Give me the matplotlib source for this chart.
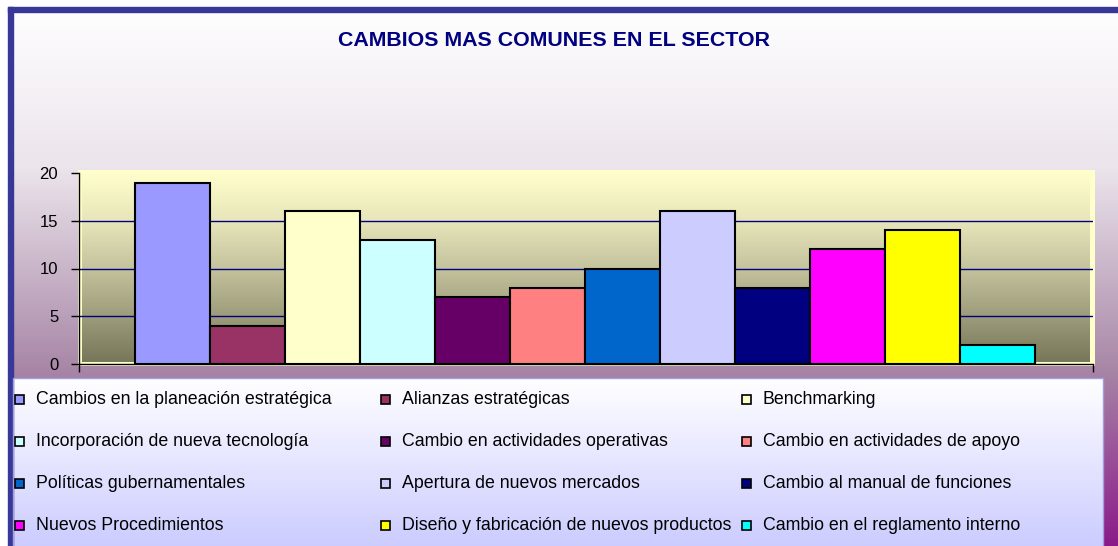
import numpy as np
import matplotlib.pyplot as plt
from matplotlib.colors import LinearSegmentedColormap
from matplotlib.patches import Rectangle

titulo = "CAMBIOS MAS COMUNES EN EL SECTOR"
categorias = [
    "Cambios en la planeación estratégica",
    "Alianzas estratégicas",
    "Benchmarking",
    "Incorporación de nueva tecnología",
    "Cambio en actividades operativas",
    "Cambio en actividades de apoyo",
    "Políticas gubernamentales",
    "Apertura de nuevos mercados",
    "Cambio al manual de funciones",
    "Nuevos Procedimientos",
    "Diseño y fabricación de nuevos productos",
    "Cambio en el reglamento interno",
]
valores = [19, 4, 16, 13, 7, 8, 10, 16, 8, 12, 14, 2]
colores = ['#9999ff', '#993366', '#ffffcc', '#ccffff', '#660066', '#ff8080',
           '#0066cc', '#ccccff', '#000080', '#ff00ff', '#ffff00', '#00ffff']
yticks = [0, 5, 10, 15, 20]

plt.rcParams['font.family'] = ['Liberation Sans', 'DejaVu Sans']

W, H = 1118, 546
fig = plt.figure(figsize=(W / 100, H / 100), dpi=100, facecolor='white')

# fondo en coordenadas de pixel
bg = fig.add_axes([0, 0, 1, 1], zorder=0)
grad = np.linspace(0, 1, 256).reshape(-1, 1)
fondo = LinearSegmentedColormap.from_list(
    'fondo', [(0, '#ffffff'), (0.3, '#ebe4eb'), (0.67, '#a887a7'), (1, '#8a1a8a')])
bg.imshow(grad, cmap=fondo, aspect='auto', extent=[8, W, H, 7], zorder=0)

# borde azul
bg.add_patch(Rectangle((8, 7), W - 8, 5, color='#383898', zorder=2))
bg.add_patch(Rectangle((8, 7), 5, H - 7, color='#383898', zorder=2))

# marco amarillo del area de trazado
bg.add_patch(Rectangle((78, 170), 1017, 196, fc='#ffffcc', ec='none', zorder=1))

# leyenda
leyenda_cm = LinearSegmentedColormap.from_list('ley', ['#ffffff', '#ccccff'])
bg.imshow(grad, cmap=leyenda_cm, aspect='auto', extent=[13, 1103, H, 378], zorder=1)
bg.add_patch(Rectangle((13, 378), 1090, 200, fill=False, ec='#a0a0e0', lw=1, zorder=2))

cols_x = [15, 381, 742]
rows_y = [399, 441, 483, 525]
for i, (nombre, col) in enumerate(zip(categorias, colores)):
    x = cols_x[i % 3]
    y = rows_y[i // 3]
    bg.add_patch(Rectangle((x, y - 4.5), 9, 9, fc=col, ec='black', lw=1.2, zorder=3))
    bg.text(x + 21, y, nombre, ha='left', va='center', fontsize=12.8, color='black', zorder=3)

bg.text(554, 40, titulo, ha='center', va='center', fontsize=15.4, fontweight='bold',
        color='#000080')

bg.set_xlim(0, W)
bg.set_ylim(H, 0)
bg.axis('off')

# grafico de barras
ax = fig.add_axes([79 / W, 1 - 364 / H, (1093 - 79) / W, (364 - 173) / H], zorder=1)
ax.set_facecolor('none')
xlim = (-56 / 75, 12 + 58 / 75)
verde = LinearSegmentedColormap.from_list(
    'verde', [(0, '#ffffcc'), (0.25, '#e8e6ba'), (0.5, '#c6c49e'), (1, '#77775a')])
ax.imshow(grad, cmap=verde, aspect='auto',
          extent=[xlim[0] + 3 / 75, xlim[1] - 3 / 75, 0.2, 20], zorder=0)

for v in [5, 10, 15]:
    ax.axhline(v, color='#000080', lw=1, zorder=1)

xs = np.arange(len(valores))
ax.bar(xs, valores, width=1, align='edge', color=colores, edgecolor='black',
       linewidth=1.5, zorder=3)

ax.set_xlim(xlim)
ax.set_ylim(0, 20)
ax.set_yticks(yticks)
ax.set_xticks(xlim)
ax.set_xticklabels(['', ''])
ax.tick_params(axis='y', direction='out', length=6, width=1, pad=9, labelsize=12)
ax.tick_params(axis='x', direction='out', length=6, width=1)
ax.spines['top'].set_visible(False)
ax.spines['right'].set_visible(False)
for s in ['left', 'bottom']:
    ax.spines[s].set_color('black')
    ax.spines[s].set_linewidth(1)

fig.savefig('out.png', dpi=100)
